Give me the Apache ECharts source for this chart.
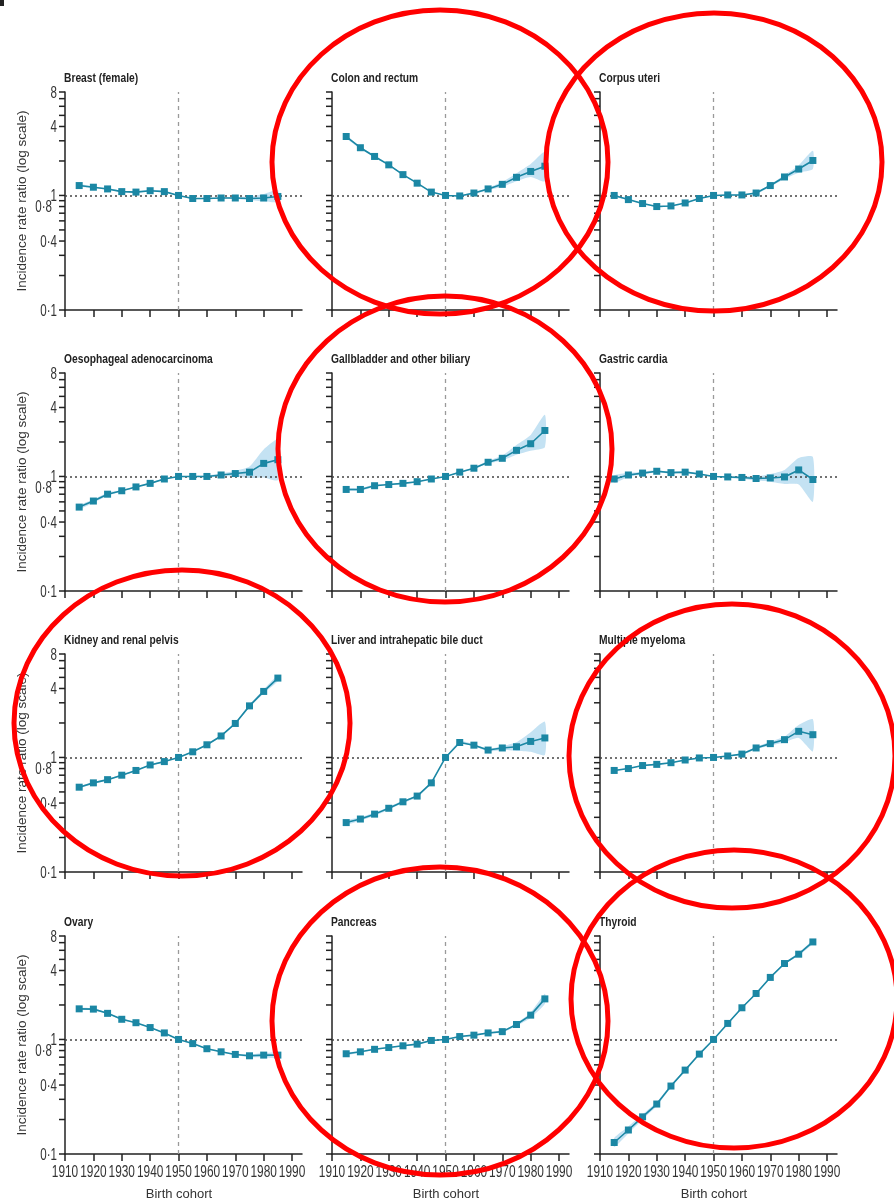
<!DOCTYPE html>
<html><head><meta charset="utf-8">
<script src="https://cdn.jsdelivr.net/npm/echarts@6/dist/echarts.min.js"></script>
<style>html,body{margin:0;padding:0;background:#fff}#c{width:894px;height:1202px}</style>
</head><body><div id="c"></div>
<script>
// ---------- data ----------
const cohorts = [1915,1920,1925,1930,1935,1940,1945,1950,1955,1960,1965,1970,1975,1980,1985];
const xTickValues = [1910,1920,1930,1940,1950,1960,1970,1980,1990];
const xTickLabels = ['1910','1920','1930','1940','1950','1960','1970','1980','1990'];
const yTickValues = [0.1,0.2,0.3,0.4,0.5,0.6,0.7,0.8,0.9,1,2,3,4,5,6,7,8];
const yLabelValues = [0.1,0.4,0.8,1,4,8];
const yLabelTexts = ['0·1','0·4','0·8','1','4','8'];
const titles = ['Breast (female)','Colon and rectum','Corpus uteri','Oesophageal adenocarcinoma','Gallbladder and other biliary','Gastric cardia','Kidney and renal pelvis','Liver and intrahepatic bile duct','Multiple myeloma','Ovary','Pancreas','Thyroid'];

const breastIRR  = [1.22,1.18,1.14,1.08,1.07,1.10,1.08,1.00,0.94,0.94,0.95,0.95,0.94,0.95,0.98];
const breastLow  = [1.19,1.16,1.12,1.07,1.06,1.08,1.07,1.00,0.93,0.93,0.94,0.93,0.91,0.89,0.88];
const breastHigh = [1.25,1.20,1.16,1.10,1.09,1.12,1.10,1.00,0.95,0.95,0.96,0.97,0.98,1.03,1.12];

const colonIRR  = [3.27,2.61,2.19,1.85,1.52,1.28,1.07,1.00,0.99,1.05,1.14,1.25,1.44,1.62,1.80];
const colonLow  = [3.18,2.55,2.15,1.82,1.50,1.27,1.06,1.00,0.98,1.03,1.11,1.19,1.33,1.45,1.33];
const colonHigh = [3.36,2.67,2.23,1.88,1.54,1.29,1.08,1.00,1.00,1.07,1.17,1.31,1.56,1.88,2.40];

const uteriIRR  = [1.00,0.92,0.85,0.80,0.81,0.86,0.94,1.00,1.01,1.01,1.05,1.22,1.45,1.70,2.02];
const uteriLow  = [0.98,0.91,0.84,0.79,0.80,0.85,0.93,1.00,1.00,1.00,1.03,1.19,1.39,1.58,1.70];
const uteriHigh = [1.02,0.93,0.86,0.81,0.82,0.87,0.95,1.00,1.02,1.02,1.07,1.25,1.51,1.83,2.45];

const oesoIRR  = [0.54,0.61,0.70,0.75,0.81,0.87,0.95,1.00,1.00,1.00,1.03,1.06,1.09,1.30,1.40];
const oesoLow  = [0.52,0.59,0.68,0.74,0.80,0.86,0.94,1.00,0.99,0.98,1.00,1.00,0.97,0.98,0.93];
const oesoHigh = [0.56,0.63,0.72,0.76,0.82,0.88,0.96,1.00,1.01,1.02,1.06,1.12,1.22,1.72,2.10];

const gallIRR  = [0.77,0.77,0.83,0.85,0.87,0.90,0.95,1.00,1.09,1.18,1.33,1.44,1.69,1.93,2.52];
const gallLow  = [0.75,0.75,0.81,0.84,0.86,0.89,0.94,1.00,1.07,1.16,1.30,1.38,1.55,1.68,1.80];
const gallHigh = [0.79,0.79,0.85,0.86,0.88,0.91,0.96,1.00,1.11,1.20,1.37,1.52,1.88,2.30,3.45];

const cardiaIRR  = [0.95,1.03,1.07,1.11,1.08,1.09,1.05,1.00,0.99,0.98,0.96,0.97,0.99,1.14,0.94];
const cardiaLow  = [0.88,0.99,1.04,1.09,1.06,1.07,1.03,1.00,0.97,0.95,0.92,0.90,0.86,0.85,0.60];
const cardiaHigh = [1.02,1.07,1.10,1.13,1.10,1.11,1.07,1.00,1.01,1.01,1.00,1.05,1.14,1.45,1.48];

const kidneyIRR  = [0.55,0.60,0.64,0.70,0.77,0.86,0.92,1.00,1.12,1.29,1.54,1.98,2.82,3.77,4.93];
const kidneyLow  = [0.54,0.59,0.63,0.69,0.76,0.85,0.91,1.00,1.11,1.27,1.52,1.95,2.74,3.62,4.65];
const kidneyHigh = [0.56,0.61,0.65,0.71,0.78,0.87,0.93,1.00,1.13,1.31,1.56,2.01,2.90,3.92,5.25];

const liverIRR  = [0.27,0.29,0.32,0.36,0.41,0.46,0.60,1.00,1.35,1.28,1.16,1.21,1.24,1.38,1.48];
const liverLow  = [0.26,0.28,0.31,0.35,0.40,0.45,0.59,1.00,1.32,1.25,1.13,1.16,1.14,1.12,1.05];
const liverHigh = [0.28,0.30,0.33,0.37,0.42,0.47,0.61,1.00,1.38,1.31,1.19,1.26,1.36,1.66,2.05];

const myelomaIRR  = [0.77,0.80,0.85,0.87,0.90,0.95,0.99,1.00,1.03,1.07,1.21,1.32,1.43,1.69,1.58];
const myelomaLow  = [0.76,0.79,0.84,0.86,0.89,0.94,0.98,1.00,1.02,1.05,1.18,1.27,1.35,1.48,1.13];
const myelomaHigh = [0.78,0.81,0.86,0.88,0.91,0.96,1.00,1.00,1.04,1.09,1.24,1.37,1.52,1.92,2.15];

const ovaryIRR  = [1.85,1.84,1.69,1.50,1.40,1.27,1.14,1.00,0.92,0.83,0.78,0.74,0.72,0.73,0.73];
const ovaryLow  = [1.81,1.81,1.67,1.48,1.39,1.26,1.13,1.00,0.91,0.82,0.77,0.73,0.70,0.70,0.69];
const ovaryHigh = [1.89,1.87,1.71,1.52,1.41,1.28,1.15,1.00,0.93,0.84,0.79,0.75,0.74,0.76,0.77];

const pancIRR  = [0.75,0.78,0.82,0.85,0.88,0.91,0.98,1.00,1.06,1.09,1.14,1.17,1.35,1.63,2.26];
const pancLow  = [0.73,0.77,0.81,0.84,0.87,0.90,0.97,1.00,1.05,1.08,1.12,1.15,1.31,1.55,2.05];
const pancHigh = [0.77,0.79,0.83,0.86,0.89,0.92,0.99,1.00,1.07,1.10,1.16,1.19,1.39,1.72,2.50];

const thyroidIRR  = [0.126,0.162,0.211,0.273,0.392,0.54,0.745,1.00,1.38,1.89,2.52,3.48,4.60,5.55,7.10];
const thyroidLow  = [0.115,0.151,0.200,0.262,0.380,0.53,0.735,1.00,1.36,1.86,2.48,3.42,4.50,5.40,6.85];
const thyroidHigh = [0.138,0.174,0.222,0.284,0.404,0.55,0.755,1.00,1.40,1.92,2.56,3.54,4.70,5.70,7.35];

const panelData = [
  [breastIRR, breastLow, breastHigh],
  [colonIRR, colonLow, colonHigh],
  [uteriIRR, uteriLow, uteriHigh],
  [oesoIRR, oesoLow, oesoHigh],
  [gallIRR, gallLow, gallHigh],
  [cardiaIRR, cardiaLow, cardiaHigh],
  [kidneyIRR, kidneyLow, kidneyHigh],
  [liverIRR, liverLow, liverHigh],
  [myelomaIRR, myelomaLow, myelomaHigh],
  [ovaryIRR, ovaryLow, ovaryHigh],
  [pancIRR, pancLow, pancHigh],
  [thyroidIRR, thyroidLow, thyroidHigh]
];

// ---------- layout / style ----------
const colLeft = [65, 332, 600];
const rowTop = [92, 373, 654, 936];
const GW = 237, GH = 218;
const font = '"Liberation Sans",Arial,sans-serif';
const axisColor = '#222';
const teal = '#1b87a4';
const band = '#c4e2f3';

const grids = [], xAxes = [], yAxes = [], series = [], graphics = [];

panelData.forEach((pd, i) => {
  const row = Math.floor(i / 3), col = i % 3;
  const [irr, low, high] = pd;
  grids.push({left: colLeft[col], top: rowTop[row], width: GW, height: GH, outerBoundsMode: 'none', containLabel: false});
  graphics.push({
    type: 'text', x: colLeft[col] - 1, y: rowTop[row] - 14, scaleX: 0.76, z: 50,
    style: {text: titles[i], fontFamily: font, fontSize: 13.5, fontWeight: 'bold', fill: '#222',
            align: 'left', verticalAlign: 'middle', textAlign: 'left', textVerticalAlign: 'middle'}
  });
  xAxes.push({
    type: 'value', gridIndex: i, min: 1910, max: 1993.5,
    axisLine: {show: true, onZero: false, lineStyle: {color: axisColor, width: 1.5}},
    axisTick: {show: true, customValues: xTickValues, length: 7, lineStyle: {color: axisColor, width: 1.5}},
    axisLabel: {show: false},
    splitLine: {show: false},
    name: row === 3 ? 'Birth cohort' : '', nameLocation: 'middle', nameGap: 34,
    nameTextStyle: {fontFamily: font, fontSize: 13, color: '#333', padding: [0, 9, 0, 0]}
  });
  yAxes.push({
    type: 'log', logBase: 10, gridIndex: i, min: 0.1, max: 8,
    axisLine: {show: true, lineStyle: {color: axisColor, width: 1.5}},
    axisTick: {show: false}, axisLabel: {show: false}, splitLine: {show: false},
    name: col === 0 ? 'Incidence rate ratio (log scale)' : '', nameLocation: 'middle', nameGap: 36,
    nameTextStyle: {fontFamily: font, fontSize: 13.5, color: '#333'}
  });
  // CI band
  series.push({
    type: 'custom', xAxisIndex: i, yAxisIndex: i, z: 1, silent: true, clip: false,
    data: cohorts.map((c, k) => [c, irr[k]]),
    renderItem: (params, api) => {
      if (params.dataIndex !== 0) return null;
      const pts = [];
      cohorts.forEach((c, k) => pts.push(api.coord([c, high[k]])));
      for (let k = cohorts.length - 1; k >= 0; k--) pts.push(api.coord([cohorts[k], low[k]]));
      return {type: 'polygon', shape: {points: pts, smooth: 0.2}, style: {fill: band, stroke: null}};
    }
  });
  // y ticks & labels
  series.push({
    type: 'custom', xAxisIndex: i, yAxisIndex: i, z: 4, silent: true, clip: false,
    data: yTickValues.map(v => [1910, v]),
    renderItem: (params, api) => {
      const v = api.value(1);
      const p = api.coord([1910, v]);
      const children = [{type: 'line', shape: {x1: p[0] - 6, y1: p[1], x2: p[0], y2: p[1]}, style: {stroke: axisColor, lineWidth: 1.5}}];
      const li = yLabelValues.indexOf(v);
      if (col === 0 && li >= 0) {
        const off = v === 0.8 ? 13 : 8;
        children.push({type: 'text', x: p[0] - off, y: p[1] + 1, scaleX: 0.7,
          style: {text: yLabelTexts[li], align: 'right', textAlign: 'right', verticalAlign: 'middle', textVerticalAlign: 'middle',
                  fontFamily: font, fontSize: 16.5, fill: '#333'}});
      }
      return {type: 'group', children};
    }
  });
  // x tick labels (bottom row)
  if (row === 3) {
    series.push({
      type: 'custom', xAxisIndex: i, yAxisIndex: i, z: 4, silent: true, clip: false,
      data: xTickValues.map(v => [v, 0.1]),
      renderItem: (params, api) => {
        const p = api.coord([api.value(0), 0.1]);
        return {type: 'text', x: p[0], y: p[1] + 18, scaleX: 0.72,
          style: {text: xTickLabels[params.dataIndex], align: 'center', textAlign: 'center', verticalAlign: 'middle', textVerticalAlign: 'middle',
                  fontFamily: font, fontSize: 16.5, fill: '#333'}};
      }
    });
  }
  // main line
  series.push({
    type: 'line', xAxisIndex: i, yAxisIndex: i, z: 3,
    data: cohorts.map((c, k) => [c, irr[k]]),
    symbol: 'rect', symbolSize: 7, showSymbol: true,
    lineStyle: {color: teal, width: 1.6}, itemStyle: {color: teal},
    silent: true, animation: false,
    markLine: {
      silent: true, symbol: 'none', z: 2, animation: false, label: {show: false},
      data: [
        {yAxis: 1, lineStyle: {color: '#444', width: 1.6, type: [2, 3]}},
        {xAxis: 1950, lineStyle: {color: '#9a9a9a', width: 1.3, type: [4, 4]}}
      ]
    }
  });
});

// red annotation ellipses
const ellipses = [
  [440, 162, 168, 152], [714, 162, 168, 149], [445, 449, 167, 153],
  [182, 723, 168, 153], [732, 756, 163, 152], [440, 1021, 168, 154], [734, 999, 163, 149]
];
ellipses.forEach(e => graphics.push({
  type: 'ellipse', shape: {cx: e[0], cy: e[1], rx: e[2], ry: e[3]}, z: 100,
  style: {fill: 'none', stroke: '#ff0000', lineWidth: 5}, silent: true
}));
graphics.push({type: 'rect', shape: {x: 0, y: 0, width: 4, height: 6}, style: {fill: '#222'}, z: 100});

const chart = echarts.init(document.getElementById('c'), null, {renderer: 'canvas'});
chart.setOption({
  backgroundColor: '#fff', animation: false,
  grid: grids, xAxis: xAxes, yAxis: yAxes, series, graphic: graphics
});
</script></body></html>
